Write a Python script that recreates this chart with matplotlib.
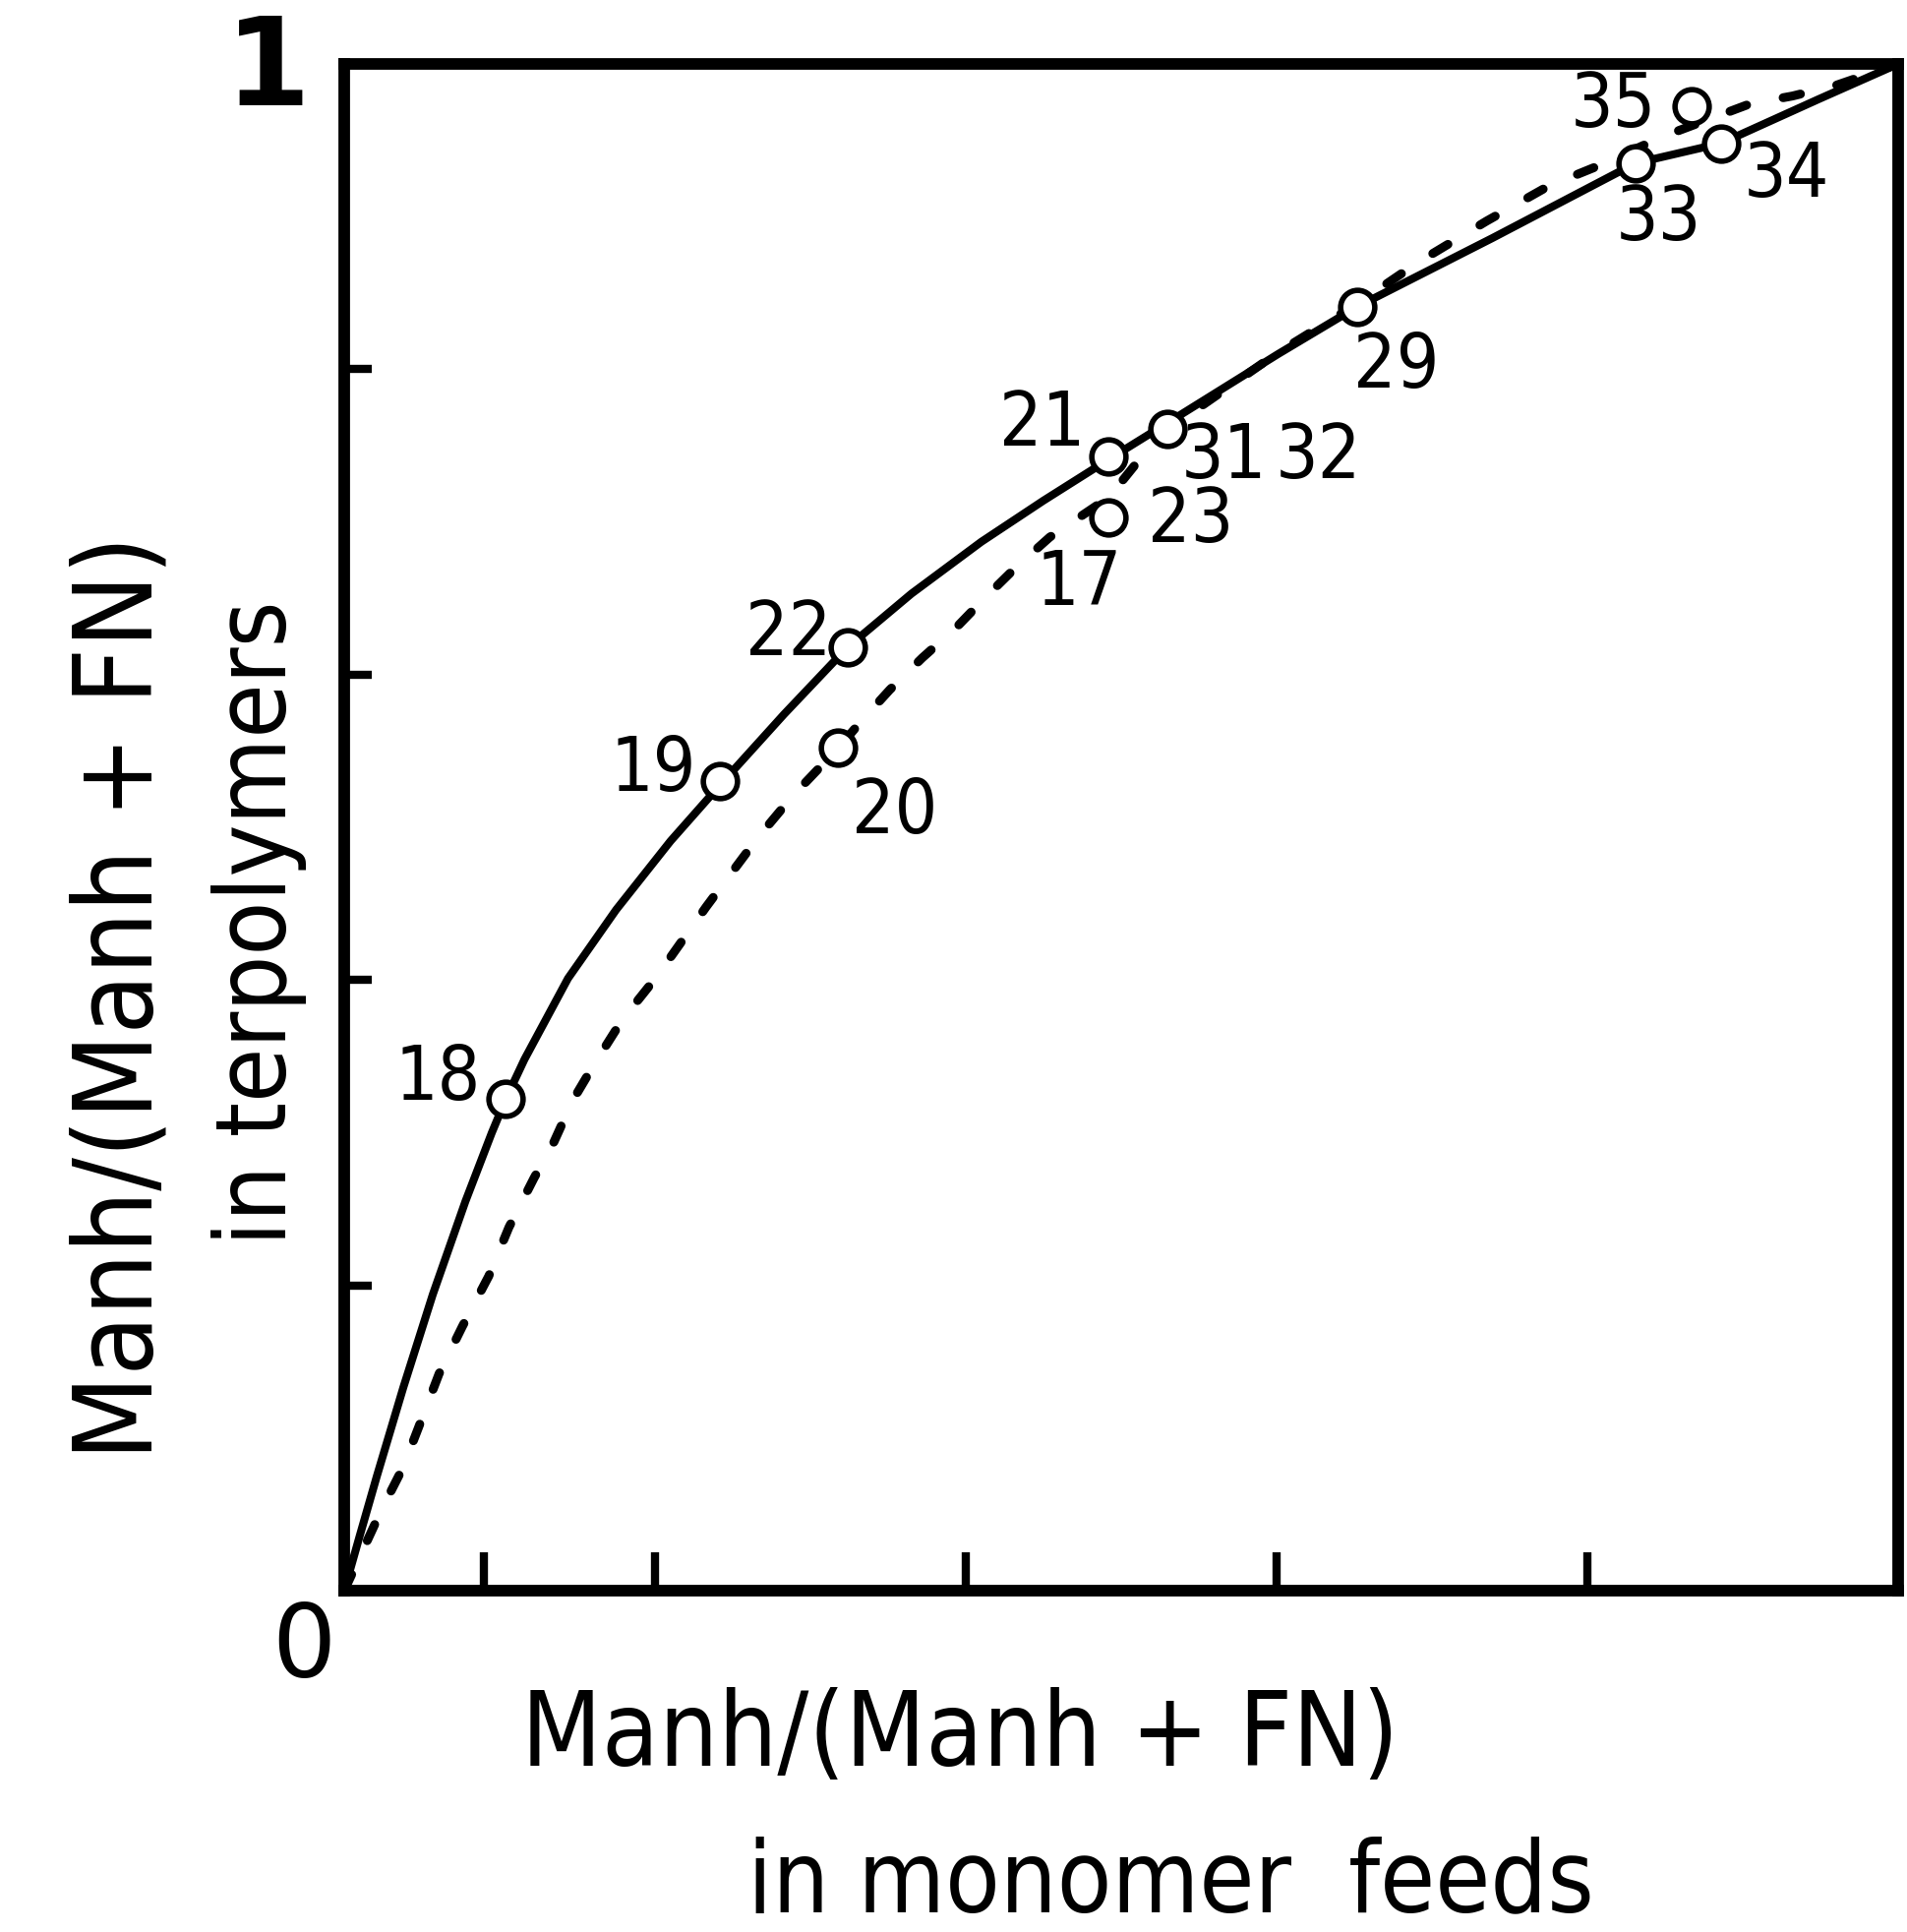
import matplotlib
matplotlib.use("Agg")
import matplotlib.pyplot as plt

# ---- data ----
# solid curve (terpolymer composition vs feed)
solid_x = [0, 0.010, 0.021, 0.038, 0.057, 0.078, 0.095, 0.104, 0.116, 0.144, 0.175, 0.210,
           0.243, 0.283, 0.324, 0.365, 0.410, 0.450, 0.492, 0.530, 0.601, 0.652, 0.739,
           0.831, 0.886, 0.949, 1.0]
solid_y = [0, 0.036, 0.075, 0.133, 0.194, 0.255, 0.300, 0.322, 0.348, 0.401, 0.446, 0.491,
           0.529, 0.574, 0.618, 0.653, 0.687, 0.714, 0.741, 0.765, 0.810, 0.841, 0.886,
           0.935, 0.948, 0.977, 1.0]

# dashed curve
dash_x = [0, 0.024, 0.038, 0.049, 0.061, 0.076, 0.093, 0.106, 0.122, 0.135, 0.147, 0.161,
          0.179, 0.201, 0.233, 0.266, 0.289, 0.318, 0.334, 0.351, 0.372, 0.394, 0.413,
          0.432, 0.454, 0.492, 0.515, 0.546, 0.601, 0.652, 0.691, 0.735, 0.775, 0.804,
          0.850, 0.905, 0.932, 0.960, 1.0]
dash_y = [0, 0.053, 0.081, 0.110, 0.142, 0.173, 0.206, 0.238, 0.270, 0.294, 0.321, 0.345,
          0.374, 0.402, 0.448, 0.493, 0.521, 0.552, 0.571, 0.590, 0.611, 0.631, 0.651,
          0.670, 0.690, 0.716, 0.745, 0.772, 0.811, 0.843, 0.870, 0.897, 0.920, 0.932,
          0.953, 0.974, 0.979, 0.986, 1.0]

# experimental points (open circles)
pt_x = [0.104, 0.242, 0.324, 0.318, 0.492, 0.492, 0.530, 0.652, 0.831, 0.886, 0.867]
pt_y = [0.322, 0.530, 0.618, 0.552, 0.743, 0.703, 0.761, 0.841, 0.935, 0.948, 0.972]

# sample numbers and their label positions
labels = ["18", "19", "22", "20", "21", "31", "32", "23", "17", "29", "33", "34", "35"]
label_x = [0.060, 0.199, 0.286, 0.354, 0.449, 0.566, 0.627, 0.545, 0.473, 0.677, 0.846, 0.928, 0.817]
label_y = [0.336, 0.538, 0.627, 0.510, 0.764, 0.743, 0.743, 0.701, 0.660, 0.802, 0.899, 0.927, 0.973]

xticks = [0.09, 0.2, 0.4, 0.6, 0.8]
yticks = [0.2, 0.4, 0.6, 0.8]

xlabel1 = "Manh/(Manh + FN)"
xlabel2 = "in monomer  feeds"
ylabel1 = "Manh/(Manh + FN)"
ylabel2 = "in terpolymers"

plt.rcParams["font.family"] = ["DejaVu Sans"]
FS = "condensed"

# ---- figure ----
W, H = 1939, 1965
fig = plt.figure(figsize=(W / 100, H / 100), dpi=100)
fig.patch.set_facecolor("white")
ax = fig.add_axes([350 / W, (H - 1618) / H, 1580 / W, 1552 / H])
ax.set_xlim(0, 1)
ax.set_ylim(0, 1)

for s in ax.spines.values():
    s.set_linewidth(8.5)
    s.set_color("black")

ax.set_xticks(xticks)
ax.set_yticks(yticks)
ax.tick_params(axis="x", direction="in", length=28, width=6, labelbottom=False)
ax.tick_params(axis="y", direction="in", length=20, width=6, labelleft=False)

ax.plot(solid_x, solid_y, color="black", lw=5.8, solid_capstyle="round",
        solid_joinstyle="round", clip_on=False, zorder=3)
ax.plot(dash_x, dash_y, color="black", lw=6.5, linestyle=(0, (2.0, 4.2)),
        dash_capstyle="round", clip_on=False, zorder=3)
ax.plot(pt_x, pt_y, linestyle="none", marker="o", ms=25, mfc="white",
        mec="black", mew=4, zorder=4, clip_on=False)

for t, lx, ly in zip(labels, label_x, label_y):
    ax.text(lx, ly, t, fontsize=55, fontstretch=FS, ha="center", va="center",
            color="black", zorder=5)

# axis end labels
ax.text(-0.049, 0.996, "1", fontsize=90, fontweight="bold", ha="center", va="center",
        clip_on=False)
ax.text(-0.026, -0.038, "0", fontsize=74, ha="center", va="center", clip_on=False)

# axis titles
fig.text(976 / W, 1 - 1766 / H, xlabel1, fontsize=76, fontstretch=FS, ha="center", va="center")
fig.text(1190 / W, 1 - 1915 / H, xlabel2, fontsize=73, fontstretch=FS, ha="center", va="center")
fig.text(124 / W, 1 - 1014 / H, ylabel1, fontsize=80, fontstretch=FS, rotation=90,
         ha="center", va="center")
fig.text(264 / W, 1 - 938 / H, ylabel2, fontsize=72, fontstretch=FS, rotation=90,
         ha="center", va="center")

fig.savefig("out.png", dpi=100, facecolor="white")
